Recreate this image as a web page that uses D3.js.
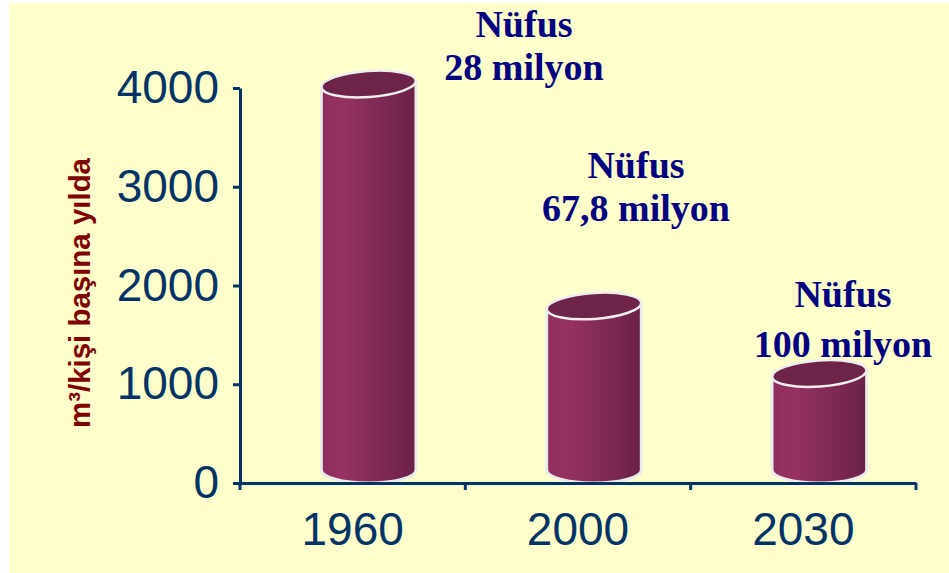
<!DOCTYPE html>
<html>
<head>
<meta charset="utf-8">
<script src="https://cdn.jsdelivr.net/npm/d3@7"></script>
<style>
  body { margin: 0; background: #fff; }
  svg { display: block; }
</style>
</head>
<body>
<div id="chart"></div>
<script>
// data
var years = ["1960", "2000", "2030"];
var waterPerPerson = [4000, 1700, 1000];   // m3 per person per year
var popTitle = ["Nüfus", "Nüfus", "Nüfus"];
var popValue = ["28 milyon", "67,8 milyon", "100 milyon"];
var yTicks = [0, 1000, 2000, 3000, 4000];

var svgWidth = 949, svgHeight = 573;

// layout for the population notes (centre x, first and second baseline)
var noteLayout = [
  {x: 524, y1: 37, y2: 80},
  {x: 636, y1: 178, y2: 221},
  {x: 843, y1: 307, y2: 357}
];

var axisColor = "#003366";

var svg = d3.select("#chart")
  .append("svg")
    .attr("width", svgWidth)
    .attr("height", svgHeight);

// yellow panel
svg.append("rect")
  .attr("x", 9).attr("y", 3)
  .attr("width", svgWidth - 9).attr("height", svgHeight - 3)
  .attr("fill", "#ffffcc");

// gradient for the cylinder body
var defs = svg.append("defs");
var grad = defs.append("linearGradient")
  .attr("id", "cyl")
  .attr("x1", "0%").attr("x2", "100%")
  .attr("y1", "0%").attr("y2", "0%");
grad.append("stop").attr("offset", "0%").attr("stop-color", "#8e2e5d");
grad.append("stop").attr("offset", "22%").attr("stop-color", "#963262");
grad.append("stop").attr("offset", "60%").attr("stop-color", "#812a56");
grad.append("stop").attr("offset", "100%").attr("stop-color", "#692147");

// scales
var x = d3.scaleBand()
  .domain(years)
  .range([240, 916])
  .padding(0);

var y = d3.scaleLinear()
  .domain([0, 4000])
  .range([483, 88]);

// the cylinders sit a little in front of the axis wall
var yBar = d3.scaleLinear()
  .domain([0, 4000])
  .range([470, 84]);

var bw = x.bandwidth();
var rx = bw * 0.21, ry = 13;
var depthShift = 16;
var tilt = -4;  // degrees, the top ellipse leans up to the right
var lean = rx * Math.sin(-tilt * Math.PI / 180);

//////////////////////////////////////////////
// CYLINDERS
//////////////////////////////////////////////
var cyl = svg.selectAll(".cyl")
  .data(years)
  .enter()
  .append("g")
    .attr("class", "cyl");

cyl.append("path")
  .attr("d", function(d, i) {
    var cx = x(d) + bw / 2 + depthShift;
    var yt = yBar(waterPerPerson[i]);
    var yb = yBar(0);
    return "M" + (cx - rx) + "," + (yt + lean) +
      " L" + (cx - rx) + "," + yb +
      " A" + rx + "," + ry + " 0 0 0 " + (cx + rx) + "," + yb +
      " L" + (cx + rx) + "," + (yt - lean) + " Z";
  })
  .attr("fill", "url(#cyl)")
  .attr("stroke", "#ebebeb")
  .attr("stroke-width", 3);

// top ellipse
cyl.append("ellipse")
  .attr("cx", function(d) { return x(d) + bw / 2 + depthShift; })
  .attr("cy", function(d, i) { return yBar(waterPerPerson[i]); })
  .attr("rx", rx)
  .attr("ry", ry)
  .attr("transform", function(d, i) {
    return "rotate(" + tilt + "," + (x(d) + bw / 2 + depthShift) + "," + yBar(waterPerPerson[i]) + ")";
  })
  .attr("fill", "#6e2349")
  .attr("stroke", "#eeeeee")
  .attr("stroke-width", 2.5);

//////////////////////////////////////////////
// AXES
//////////////////////////////////////////////
var yAxis = svg.append("g")
  .attr("transform", "translate(240,0)")
  .call(d3.axisLeft(y)
    .tickValues(yTicks)
    .tickFormat(d3.format("d"))
    .tickSize(7).tickSizeOuter(0).tickPadding(14));

var xAxis = svg.append("g")
  .attr("transform", "translate(0,483)")
  .call(d3.axisBottom(x).tickSize(0).tickSizeOuter(0).tickPadding(29));

// x ticks sit on the band edges
var edges = years.map(function(d) { return x(d); }).concat([x.range()[1]]);
xAxis.selectAll(".edge")
  .data(edges)
  .enter()
  .append("line")
    .attr("class", "edge")
    .attr("x1", function(d) { return d; })
    .attr("x2", function(d) { return d; })
    .attr("y1", 0)
    .attr("y2", 7);

[yAxis, xAxis].forEach(function(g) {
  g.selectAll("path, line")
    .attr("stroke", axisColor)
    .attr("stroke-width", 3);
  g.selectAll("text")
    .attr("fill", axisColor)
    .style("font-family", "'Liberation Sans', Arial, sans-serif")
    .style("font-size", "46px");
});

//////////////////////////////////////////////
// LABELS
//////////////////////////////////////////////
svg.append("text")
  .attr("transform", "translate(90,293)rotate(-90)")
  .attr("text-anchor", "middle")
  .attr("textLength", 270)
  .attr("lengthAdjust", "spacingAndGlyphs")
  .style("font-family", "'Liberation Sans', Arial, sans-serif")
  .style("font-weight", "bold")
  .style("font-size", "30px")
  .style("fill", "#800000")
  .text("m³/kişi başına yılda");

var notes = svg.selectAll(".note")
  .data(years)
  .enter()
  .append("g")
    .attr("class", "note")
    .style("font-family", "'Liberation Serif', 'Times New Roman', serif")
    .style("font-weight", "bold")
    .style("font-size", "38px")
    .style("fill", "#000080")
    .attr("text-anchor", "middle");

notes.append("text")
  .attr("x", function(d, i) { return noteLayout[i].x; })
  .attr("y", function(d, i) { return noteLayout[i].y1; })
  .text(function(d, i) { return popTitle[i]; });

notes.append("text")
  .attr("x", function(d, i) { return noteLayout[i].x; })
  .attr("y", function(d, i) { return noteLayout[i].y2; })
  .text(function(d, i) { return popValue[i]; });
</script>
</body>
</html>
